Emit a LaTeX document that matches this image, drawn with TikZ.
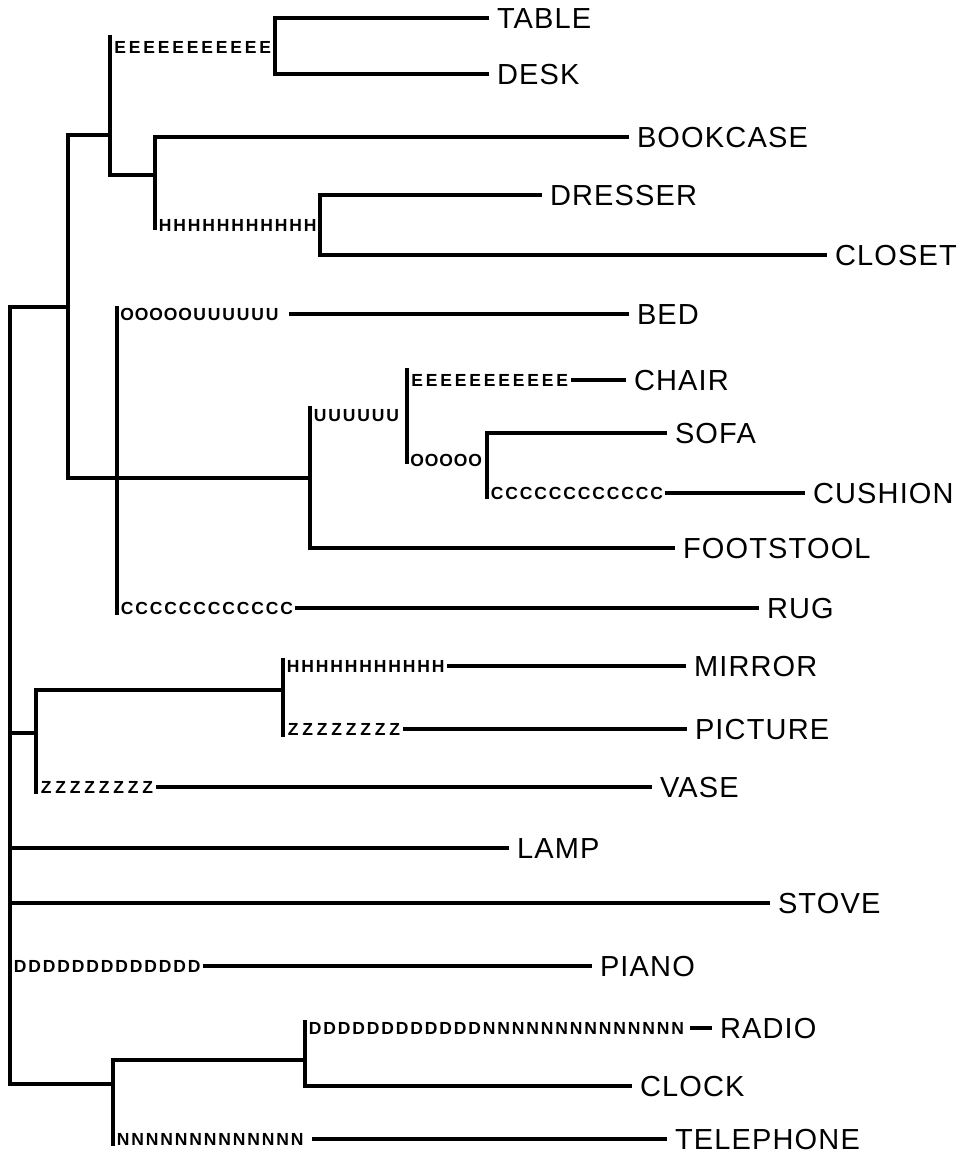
\documentclass[tikz,border=0pt]{standalone}
\usepackage{fontspec}
\setmainfont{Liberation Sans}
\newfontfamily\bigfont[LetterSpace=4]{Liberation Sans}
\newfontfamily\codefont{Liberation Sans Bold}
\def\cellloop#1{\ifx#1\relax\else\makebox[14.5pt]{#1}\expandafter\cellloop\fi}
\newcommand\cells[1]{\cellloop#1\relax}
\tikzset{
  lab/.style={anchor=west, inner sep=0pt, outer xsep=10pt,
    font={\bigfont\fontsize{29pt}{31pt}\selectfont}, text height=21pt, text depth=0pt},
  codes/.style={anchor=west, inner sep=0pt, outer xsep=3pt,
    font={\codefont\fontsize{17.5pt}{19pt}\selectfont}, text height=12.6pt, text depth=0pt},
  tree/.style={line width=3.4pt, line cap=rect}
}
\begin{document}
\begin{tikzpicture}[x=1pt,y=-1pt]
\useasboundingbox (0,0) rectangle (964,1157);
% ---------------- junction coordinates
\coordinate (rT) at (10,307);
\coordinate (rJ) at (10,733);
\coordinate (rL) at (10,848);
\coordinate (rS) at (10,903);
\coordinate (rB) at (10,1084);
\coordinate (aT) at (68,135);
\coordinate (aB) at (68,478);
\coordinate (bT) at (110,37);
\coordinate (bB) at (110,175);
\coordinate (cT) at (275,18);
\coordinate (cB) at (275,74);
\coordinate (dT) at (155,137);
\coordinate (dB) at (155,228);
\coordinate (eT) at (320,195);
\coordinate (eB) at (320,255);
\coordinate (fT) at (117,308);
\coordinate (fB) at (117,613);
\coordinate (gT) at (310,408);
\coordinate (gB) at (310,548);
\coordinate (hT) at (407,370);
\coordinate (hB) at (407,462);
\coordinate (iT) at (487,433);
\coordinate (iB) at (487,497);
\coordinate (jT) at (36,690);
\coordinate (jB) at (36,792);
\coordinate (kT) at (283,660);
\coordinate (kB) at (283,735);
\coordinate (lT) at (113,1060);
\coordinate (lB) at (113,1144);
\coordinate (mT) at (305,1022);
\coordinate (mB) at (305,1086);
% ---------------- code strings
\node[codes] (sE1) at (110,47) {\cells{EEEEEEEEEEE}};
\node[codes] (sH1) at (155,225) {\cells{HHHHHHHHHHH}};
\node[codes] (sOU) at (117,314) {\cells{OOOOOUUUUUU}};
\node[codes] (sU) at (310,415) {\cells{UUUUUU}};
\node[codes] (sE2) at (407,380) {\cells{EEEEEEEEEEE}};
\node[codes] (sO) at (407,460) {\cells{OOOOO}};
\node[codes] (sC1) at (487,493) {\cells{CCCCCCCCCCCC}};
\node[codes] (sC2) at (117,608) {\cells{CCCCCCCCCCCC}};
\node[codes] (sH2) at (283,666) {\cells{HHHHHHHHHHH}};
\node[codes] (sZ1) at (283,729) {\cells{ZZZZZZZZ}};
\node[codes] (sZ2) at (36,787) {\cells{ZZZZZZZZ}};
\node[codes] (sD) at (10,966) {\cells{DDDDDDDDDDDDD}};
\node[codes] (sDN) at (305,1028) {\cells{DDDDDDDDDDDDNNNNNNNNNNNNNN}};
\node[codes] (sN) at (113,1139) {\cells{NNNNNNNNNNNNN}};
% ---------------- leaf labels
\node[lab] (table) at (487,18) {TABLE};
\node[lab] (desk) at (487,74) {DESK};
\node[lab] (bookcase) at (627,137) {BOOKCASE};
\node[lab] (dresser) at (540,195) {DRESSER};
\node[lab] (closet) at (825,255) {CLOSET};
\node[lab] (bed) at (627,314) {BED};
\node[lab] (chair) at (624,380) {CHAIR};
\node[lab] (sofa) at (665,433) {SOFA};
\node[lab] (cushion) at (803,493) {CUSHION};
\node[lab] (footstool) at (673,548) {FOOTSTOOL};
\node[lab] (rug) at (757,608) {RUG};
\node[lab] (mirror) at (684,666) {MIRROR};
\node[lab] (picture) at (685,729) {PICTURE};
\node[lab] (vase) at (650,787) {VASE};
\node[lab] (lamp) at (507,848) {LAMP};
\node[lab] (stove) at (768,903) {STOVE};
\node[lab] (piano) at (590,966) {PIANO};
\node[lab] (radio) at (710,1028) {RADIO};
\node[lab] (clock) at (630,1086) {CLOCK};
\node[lab] (telephone) at (665,1139) {TELEPHONE};
% ---------------- tree lines
\begin{scope}[tree]
\draw (rT) -- (rB);
\draw (rT) -- (rT -| aT);
\draw (aT) -- (aB);
\draw (aT) -- (aT -| bT);
\draw (bT) -- (bB);
\draw (cT) -- (cB);
\draw (cT) -- (table.west);
\draw (cB) -- (desk.west);
\draw (bB) -- (bB -| dT);
\draw (dT) -- (dB);
\draw (dT) -- (bookcase.west);
\draw (eT) -- (eB);
\draw (eT) -- (dresser.west);
\draw (eB) -- (closet.west);
\draw (aB) -- (aB -| gT);
\draw (fT) -- (fB);
\draw (sOU.east) ++(8pt,0) -- (bed.west);
\draw (sC2.east) -- (rug.west);
\draw (gT) -- (gB);
\draw (gB) -- (footstool.west);
\draw (hT) -- (hB);
\draw (sE2.east) -- (chair.west);
\draw (iT) -- (iB);
\draw (iT) -- (sofa.west);
\draw (sC1.east) -- (cushion.west);
\draw (rJ) -- (rJ -| jT);
\draw (jT) -- (jB);
\draw (jT) -- (jT -| kT);
\draw (kT) -- (kB);
\draw (sH2.east) -- (mirror.west);
\draw (sZ1.east) -- (picture.west);
\draw (sZ2.east) -- (vase.west);
\draw (rL) -- (lamp.west);
\draw (rS) -- (stove.west);
\draw (sD.east) -- (piano.west);
\draw (rB) -- (rB -| lT);
\draw (lT) -- (lB);
\draw (lT) -- (lT -| mT);
\draw (mT) -- (mB);
\draw[shorten <=4pt] (sDN.east) -- (radio.west);
\draw (mB) -- (clock.west);
\draw[shorten <=6pt] (sN.east) -- (telephone.west);
\end{scope}
\end{tikzpicture}
\end{document}
